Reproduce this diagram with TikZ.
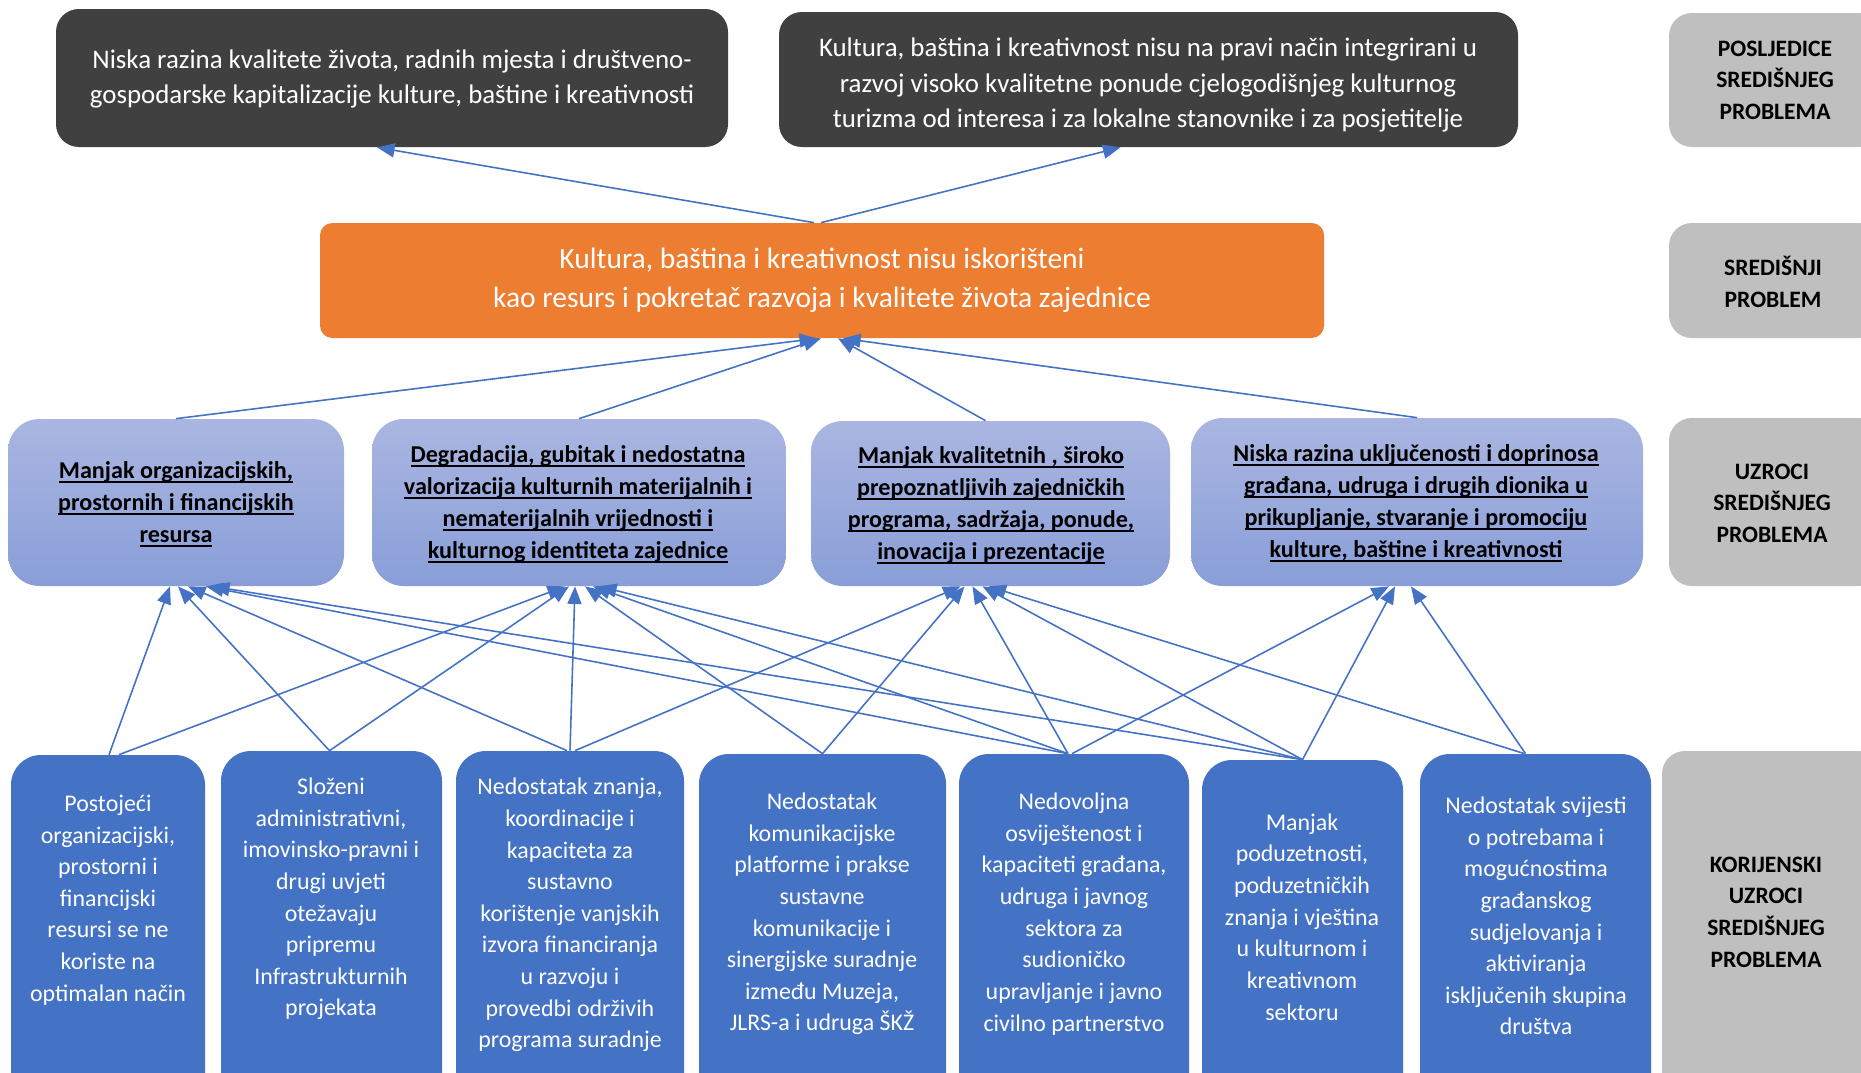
\documentclass[tikz,border=0pt]{standalone}
\usepackage{fontspec}
\setmainfont{Carlito}
\usetikzlibrary{arrows.meta,calc,fit}

\definecolor{darkfill}{RGB}{64,64,64}
\definecolor{orangefill}{RGB}{237,125,49}
\definecolor{grayfill}{RGB}{191,191,191}
\definecolor{rootblue}{RGB}{68,114,196}
\definecolor{causetop}{RGB}{170,182,225}
\definecolor{causebottom}{RGB}{137,158,216}
\definecolor{linkblue}{RGB}{68,114,196}

% underline with a fixed offset below the baseline
\newcommand\uln[1]{\setbox0\hbox{#1}\rlap{\rule[-2.7pt]{\wd0}{1.1pt}}\box0}

\tikzset{
  boxbase/.style={inner sep=0pt},
  textbase/.style={inner sep=0pt, align=center},
  effectbox/.style={boxbase, fill=darkfill, rounded corners=13pt},
  effecttext/.style={textbase, text=white, font=\fontsize{15.3}{20}\selectfont},
  corebox/.style={boxbase, fill=orangefill, rounded corners=7pt},
  coretext/.style={textbase, text=white, font=\fontsize{16.8}{22}\selectfont},
  levelbox/.style={boxbase, fill=grayfill, rounded corners=13pt},
  leveltext/.style={textbase, text=black, font=\bfseries\fontsize{13.4}{18}\selectfont},
  causebox/.style={boxbase, top color=causetop, bottom color=causebottom, rounded corners=18pt},
  causetext/.style={textbase, text=black, font=\bfseries\fontsize{13.75}{18.2}\selectfont},
  rootbox/.style={boxbase, fill=rootblue, rounded corners=17pt},
  roottext/.style={textbase, text=white, font=\fontsize{13.6}{18}\selectfont},
  link/.style={draw=linkblue, line width=0.9pt,
    -{Triangle[length=10pt,width=8pt]}, color=linkblue},
}

\begin{document}
\begin{tikzpicture}[x=0.02cm,y=-0.02cm]
\useasboundingbox (0,0) rectangle (1861,1072);
\clip (0,0) rectangle (1861,1072);
\fill[white] (0,0) rectangle (1861,1072);

% consequences
\node[effectbox, fit={(56,9)(728,147)}] (TL) {};
\node[effecttext] (TLt) at (392,79)
  {Niska razina kvalitete života, radnih mjesta i društveno-\\gospodarske kapitalizacije kulture, baštine i kreativnosti};
\node[effectbox, fit={(779,12)(1518,147)}] (TR) {};
\node[effecttext] (TRt) at (1148,85)
  {Kultura, baština i kreativnost nisu na pravi način integrirani u\\razvoj visoko kvalitetne ponude cjelogodišnjeg kulturnog\\turizma od interesa i za lokalne stanovnike i za posjetitelje};

% central problem
\node[corebox, fit={(320,223)(1324,338)}] (OR) {};
\node[coretext] (ORt) at (822,280)
  {Kultura, baština i kreativnost nisu iskorišteni\\kao resurs i pokretač razvoja i kvalitete života zajednice};

% level labels
\node[levelbox, fit={(1669,13)(1881,147)}] (G1) {};
\node[leveltext] (G1t) at (1775,80) {POSLJEDICE\\SREDIŠNJEG\\PROBLEMA};
\node[levelbox, fit={(1669,223)(1881,338)}] (G2) {};
\node[leveltext] (G2t) at (1773,282) {SREDIŠNJI\\PROBLEM};
\node[levelbox, fit={(1669,418)(1881,586)}] (G3) {};
\node[leveltext] (G3t) at (1772,503) {UZROCI\\SREDIŠNJEG\\PROBLEMA};
\node[levelbox, fit={(1662,751)(1881,1130)}] (G4) {};
\node[leveltext] (G4t) at (1766,912) {KORIJENSKI\\UZROCI\\SREDIŠNJEG\\PROBLEMA};

% causes
\node[causebox, fit={(8,419)(344,586)}] (C1) {};
\node[causetext] (C1t) at (176,504)
  {\uln{Manjak organizacijskih,}\\\uln{prostornih i financijskih}\\\uln{resursa}};
\node[causebox, fit={(372,419)(786,586)}] (C2) {};
\node[causetext] (C2t) at (578,504)
  {\uln{Degradacija, gubitak i nedostatna}\\\uln{valorizacija kulturnih materijalnih i}\\\uln{nematerijalnih vrijednosti i}\\\uln{kulturnog identiteta zajednice}};
\node[causebox, fit={(811,421)(1170,586)}] (C3) {};
\node[causetext] (C3t) at (991,505)
  {\uln{Manjak kvalitetnih , široko}\\\uln{prepoznatljivih zajedničkih}\\\uln{programa, sadržaja, ponude,}\\\uln{inovacija i prezentacije}};
\node[causebox, fit={(1191,418)(1643,586)}] (C4) {};
\node[causetext] (C4t) at (1416,503)
  {\uln{Niska razina uključenosti i doprinosa}\\\uln{građana, udruga i drugih dionika u}\\\uln{prikupljanje, stvaranje i promociju}\\\uln{kulture, baštine i kreativnosti}};

% root causes
\node[rootbox, fit={(11,755)(205,1130)}] (R1) {};
\node[rootbox, fit={(221,751)(442,1130)}] (R2) {};
\node[rootbox, fit={(456,751)(684,1130)}] (R3) {};
\node[rootbox, fit={(699,754)(946,1130)}] (R4) {};
\node[rootbox, fit={(959,754)(1189,1130)}] (R5) {};
\node[rootbox, fit={(1202,760)(1403,1130)}] (R6) {};
\node[rootbox, fit={(1420,754)(1651,1130)}] (R7) {};

\node[roottext] (R1t) at (108,900) {Postojeći\\organizacijski,\\prostorni i\\financijski\\resursi se ne\\koriste na\\optimalan način};
\node[roottext] (R2t) at (331,899) {Složeni\\administrativni,\\imovinsko-pravni i\\drugi uvjeti\\otežavaju\\pripremu\\Infrastrukturnih\\projekata};
\node[roottext] (R3t) at (570,915) {Nedostatak znanja,\\koordinacije i\\kapaciteta za\\sustavno\\korištenje vanjskih\\izvora financiranja\\u razvoju i\\provedbi održivih\\programa suradnje};
\node[roottext] (R4t) at (822,914) {Nedostatak\\komunikacijske\\platforme i prakse\\sustavne\\komunikacije i\\sinergijske suradnje\\između Muzeja,\\JLRS-a i udruga ŠKŽ};
\node[roottext] (R5t) at (1074,914) {Nedovoljna\\osviještenost i\\kapaciteti građana,\\udruga i javnog\\sektora za\\sudioničko\\upravljanje i javno\\civilno partnerstvo};
\node[roottext] (R6t) at (1302,917) {Manjak\\poduzetnosti,\\poduzetničkih\\znanja i vještina\\u kulturnom i\\kreativnom\\sektoru};
\node[roottext] (R7t) at (1536,916) {Nedostatak svijesti\\o potrebama i\\mogućnostima\\građanskog\\sudjelovanja i\\aktiviranja\\isključenih skupina\\društva};

% central problem -> consequences
\draw[link] ($(OR.north)+(-8,0)$) -- ($(TL.south)+(-15,0)$);
\draw[link] ($(OR.north)+(-1,0)$) -- ($(TR.south)+(-28,0)$);

% causes -> central problem
\draw[link] (C1.north) -- ($(OR.south)+(-5,0)$);
\draw[link] (C2.north) -- ($(OR.south)+(-1,0)$);
\draw[link] ($(C3.north)+(-5,0)$) -- ($(OR.south)+(16,0)$);
\draw[link] (C4.north) -- ($(OR.south)+(21,0)$);

% root causes -> causes
\draw[link] ($(R1.north)+(1,0)$) -- ($(C1.south)+(-6,0)$);
\draw[link] ($(R1.north)+(11,0)$) -- ($(C2.south)+(-14,0)$);
\draw[link] ($(R2.north)+(-2,0)$) -- ($(C1.south)+(2,0)$);
\draw[link] ($(R2.north)+(-2,0)$) -- ($(C2.south)+(-10,0)$);
\draw[link] ($(R3.north)+(-3,0)$) -- ($(C1.south)+(12,0)$);
\draw[link] (R3.north) -- ($(C2.south)+(-4,0)$);
\draw[link] ($(R3.north)+(5,0)$) -- ($(C3.south)+(-30,0)$);
\draw[link] (R4.north) -- ($(C2.south)+(6,0)$);
\draw[link] (R4.north) -- ($(C3.south)+(-26,0)$);
\draw[link] ($(R5.north)+(-6,0)$) -- ($(C1.south)+(30,0)$);
\draw[link] ($(R5.north)+(-6,0)$) -- ($(C2.south)+(14,0)$);
\draw[link] ($(R5.north)+(-6,0)$) -- ($(C3.south)+(-18,0)$);
\draw[link] ($(R5.north)+(-2,0)$) -- ($(C4.south)+(-28,0)$);
\draw[link] (R6.north) -- ($(C1.south)+(36,0)$);
\draw[link] (R6.north) -- ($(C2.south)+(20,0)$);
\draw[link] (R6.north) -- ($(C3.south)+(-8,0)$);
\draw[link] (R6.north) -- ($(C4.south)+(-22,0)$);
\draw[link] ($(R7.north)+(-11,0)$) -- ($(C3.south)+(-2,0)$);
\draw[link] ($(R7.north)+(-10,0)$) -- ($(C4.south)+(-6,0)$);
\end{tikzpicture}
\end{document}
